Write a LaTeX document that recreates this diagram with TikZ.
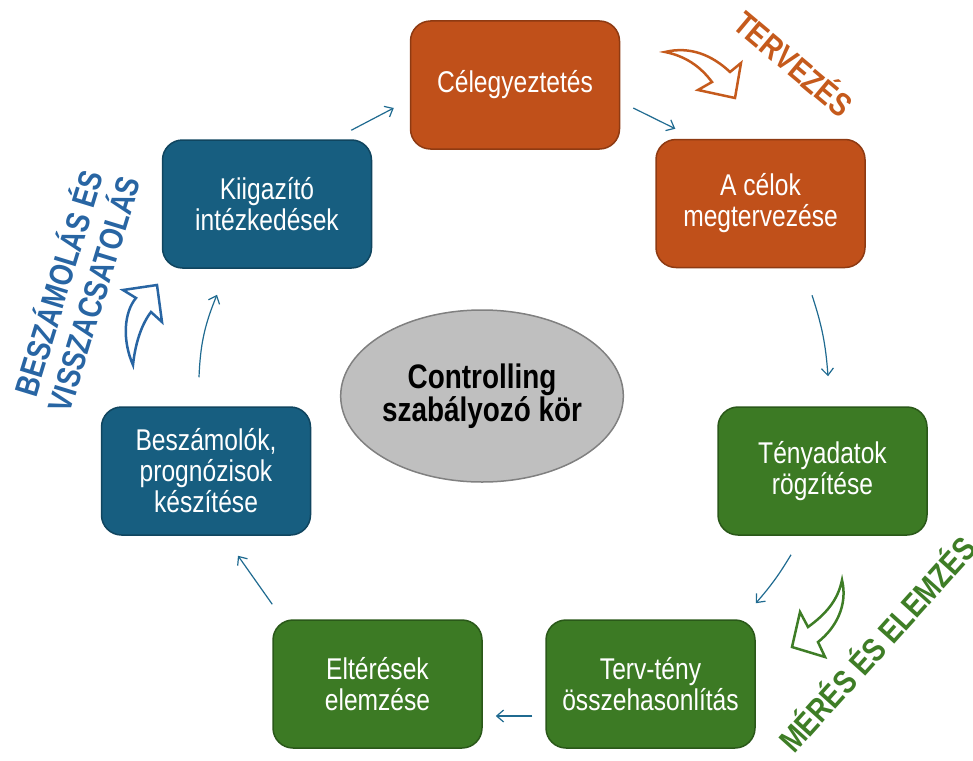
\documentclass[tikz,border=0pt]{standalone}
\usepackage{fontspec}
\setmainfont{Liberation Sans}
\newfontfamily\narrowsans[FakeStretch=0.82]{Liberation Sans}
\usetikzlibrary{arrows.meta,shapes.geometric}

% stage colours: planning (orange), measuring (green), feedback (blue)
\definecolor{planfill}{HTML}{C0501A}
\definecolor{planedge}{HTML}{8E3A12}
\definecolor{actfill}{HTML}{175E80}
\definecolor{actedge}{HTML}{10455F}
\definecolor{measfill}{HTML}{3C7A24}
\definecolor{measedge}{HTML}{2A5819}
\definecolor{flowcol}{HTML}{1F6A90}
\definecolor{plantext}{HTML}{C55A1C}
\definecolor{acttext}{HTML}{2865A3}
\definecolor{meastext}{HTML}{3E7D26}
\definecolor{corefill}{HTML}{BFBFBF}
\definecolor{coreedge}{HTML}{808080}

\begin{document}
\begin{tikzpicture}[x=1pt,y=-1pt,
  stage/.style={rectangle, rounded corners=20pt, minimum width=209pt,
    minimum height=128pt, line width=1.5pt, text=white, align=center,
    font=\narrowsans\fontsize{30}{31}\selectfont, inner sep=0pt},
  plan/.style={stage, fill=planfill, draw=planedge},
  act/.style={stage, fill=actfill, draw=actedge},
  meas/.style={stage, fill=measfill, draw=measedge},
  flow/.style={draw=flowcol, line width=1.2pt,
    -{Straight Barb[length=7pt,width=12pt]}},
  bigarrow/.style={line width=2.5pt, fill=white, line join=miter},
  phase/.style={font=\narrowsans\fontsize{33}{37}\selectfont\bfseries,
    align=center, inner sep=0pt}]

\useasboundingbox (0,0) rectangle (973,760);

% the seven stages of the loop
\node[plan] (c1) at (515,85)    {Célegyeztetés};
\node[plan] (c2) at (760.5,203.5) {A célok\\megtervezése};
\node[meas] (c3) at (822.5,471) {Tényadatok\\rögzítése};
\node[meas] (c4) at (650.5,684) {Terv-tény\\összehasonlítás};
\node[meas] (c5) at (377.5,684) {Eltérések\\elemzése};
\node[act]  (c6) at (206,471)   {Beszámolók,\\prognózisok\\készítése};
\node[act]  (c7) at (267,204)   {Kiigazító\\intézkedések};

% centre of the loop
\node[ellipse, minimum width=244pt, minimum height=172pt, fill=corefill,
  draw=coreedge, line width=1.5pt, inner sep=0pt, align=center,
  font=\narrowsans\fontsize{34}{33}\selectfont\bfseries] (core) at (482,396)
  {Controlling\\szabályozó kör};

% connectors between the stages
\draw[flow] ([xshift=-21pt,yshift=9pt]c7.north east) -- ([xshift=-16pt,yshift=-23pt]c1.west);
\draw[flow] ([xshift=13pt,yshift=-23pt]c1.east) -- ([xshift=20pt,yshift=10pt]c2.north west);
\draw[flow] ([xshift=51.5pt,yshift=-27pt]c2.south) to[bend left=7] ([xshift=5.5pt,yshift=30pt]c3.north);
\draw[flow] ([xshift=-31.5pt,yshift=-19pt]c3.south) to[bend left=5] ([yshift=16pt]c4.north east);
\draw[flow] ([xshift=-13pt,yshift=-32pt]c4.west) -- ([xshift=13pt,yshift=-32pt]c5.east);
\draw[flow] ([yshift=15pt]c5.north west) -- ([xshift=32pt,yshift=-20pt]c6.south);
\draw[flow] ([xshift=-7pt,yshift=29pt]c6.north) to[bend left=10] ([xshift=-50pt,yshift=-26pt]c7.south);

% phase arrows
\draw[bigarrow, draw=plantext]
  (665,52) .. controls (690,46) and (712,55) .. (730,72) -- (741,63)
  -- (735,98) -- (698,90) -- (712,82)
  .. controls (700,66) and (685,56) .. cycle;
\draw[bigarrow, draw=acttext]
  (133,365) .. controls (122,340) and (124,312) .. (136,298) -- (123,290)
  -- (157,285) -- (162,322) -- (151,312)
  .. controls (141,325) and (135,345) .. cycle;
\draw[bigarrow, draw=meastext]
  (842,580) .. controls (848,605) and (836,628) .. (818,642) -- (825,657)
  -- (792,647) -- (800,612) -- (808,627)
  .. controls (826,614) and (838,600) .. cycle;

% phase labels
\node[phase, text=plantext, rotate=-40] (lplan) at (795,62) {TERVEZÉS};
\node[phase, text=acttext, rotate=73] (lact) at (74,288) {BESZÁMOLÁS ÉS\\VISSZACSATOLÁS};
\node[phase, text=meastext, rotate=48] (lmeas) at (876,643) {MÉRÉS ÉS ELEMZÉS};
\end{tikzpicture}
\end{document}
